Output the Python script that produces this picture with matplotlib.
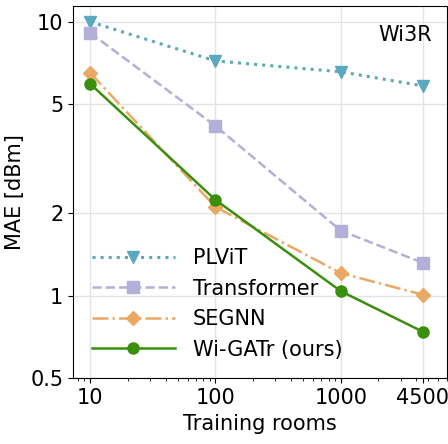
import matplotlib.pyplot as plt
from matplotlib.ticker import FixedLocator, NullFormatter, NullLocator

rooms = [10, 100, 1000, 4500]
plvit = [10.0, 7.2, 6.57, 5.84]
transformer = [9.12, 4.17, 1.73, 1.32]
segnn = [6.51, 2.11, 1.21, 1.01]
wigatr = [5.94, 2.24, 1.04, 0.74]

y_ticks = [0.5, 1, 2, 5, 10]
x_labels = ["10", "100", "1000", "4500"]

plt.rcParams["font.size"] = 15

fig, ax = plt.subplots(figsize=(4.48, 4.44), dpi=100)
fig.subplots_adjust(left=0.163, right=0.997, top=0.986, bottom=0.148)

ax.plot(rooms, plvit, ":", color="#5ba8c0", marker="v", ms=8, lw=2.2, label="PLViT")
ax.plot(rooms, transformer, "--", color="#b2b0d9", marker="s", ms=8, lw=1.8, label="Transformer")
ax.plot(rooms, segnn, "-.", color="#e9a863", marker="D", ms=7, lw=1.8, label="SEGNN")
ax.plot(rooms, wigatr, "-", color="#3a8f0e", marker="o", ms=8, lw=1.8, label="Wi-GATr (ours)")

ax.set_xscale("log")
ax.set_yscale("log")
ax.set_xlim(7.3, 7000)
ax.set_ylim(0.5, 11.4)

ax.xaxis.set_major_locator(FixedLocator(rooms))
ax.set_xticklabels(x_labels)
ax.yaxis.set_major_locator(FixedLocator(y_ticks))
ax.set_yticklabels(["0.5", "1", "2", "5", "10"])
ax.yaxis.set_minor_locator(NullLocator())
ax.yaxis.set_minor_formatter(NullFormatter())
ax.xaxis.set_minor_formatter(NullFormatter())

ax.grid(True, which="major", color="#e3e3e3", lw=1)
ax.set_axisbelow(True)

ax.set_xlabel("Training rooms")
ax.set_ylabel("MAE [dBm]")
ax.text(0.96, 0.95, "Wi3R", transform=ax.transAxes, ha="right", va="top")

ax.legend(loc="lower left", frameon=False, handlelength=4, handletextpad=0.85,
          borderaxespad=0.5, labelspacing=0.5)

fig.savefig("out.png")
